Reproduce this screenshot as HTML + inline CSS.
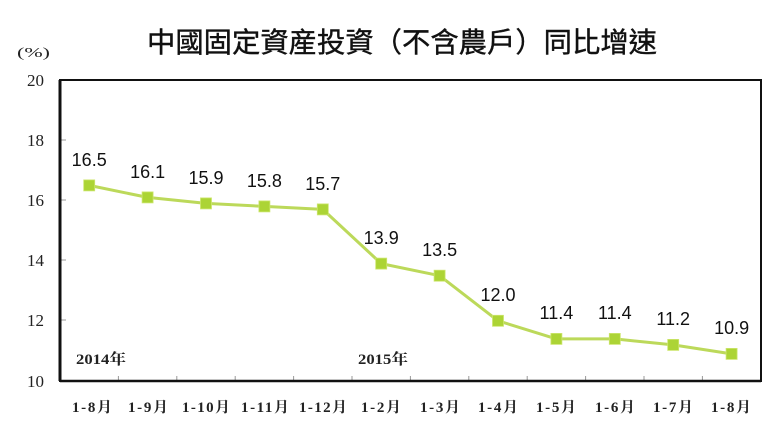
<!DOCTYPE html>
<html><head><meta charset="utf-8"><style>
html,body{margin:0;padding:0;background:#fff;}
svg{display:block;}
</style></head><body>
<svg width="780" height="441" viewBox="0 0 780 441" xmlns="http://www.w3.org/2000/svg">
<rect width="780" height="441" fill="#fff"/>
<text x="402" y="52" text-anchor="middle" font-family="'Noto Sans CJK TC','Noto Sans CJK SC',sans-serif" font-size="28" fill="#111" stroke="#111" stroke-width="0.4" textLength="510" lengthAdjust="spacingAndGlyphs">中國固定資産投資（不含農戶）同比增速</text>
<text x="17" y="57" font-family="'Liberation Serif','Noto Serif CJK SC',serif" font-size="14" fill="#222" textLength="33" lengthAdjust="spacingAndGlyphs">(%)</text>
<g font-family="'Liberation Serif',serif" font-size="17" fill="#222" text-anchor="end">
<text x="44" y="86">20</text>
<text x="44" y="146">18</text>
<text x="44" y="206">16</text>
<text x="44" y="266">14</text>
<text x="44" y="326">12</text>
<text x="44" y="387">10</text>
</g>
<g stroke="#999" stroke-width="1">
<line x1="60" y1="140" x2="66" y2="140"/>
<line x1="60" y1="200" x2="66" y2="200"/>
<line x1="60" y1="260" x2="66" y2="260"/>
<line x1="60" y1="320" x2="66" y2="320"/>
<line x1="118.4" y1="381" x2="118.4" y2="376"/>
<line x1="176.8" y1="381" x2="176.8" y2="376"/>
<line x1="235.2" y1="381" x2="235.2" y2="376"/>
<line x1="293.6" y1="381" x2="293.6" y2="376"/>
<line x1="352" y1="381" x2="352" y2="376"/>
<line x1="410.4" y1="381" x2="410.4" y2="376"/>
<line x1="468.8" y1="381" x2="468.8" y2="376"/>
<line x1="527.2" y1="381" x2="527.2" y2="376"/>
<line x1="585.6" y1="381" x2="585.6" y2="376"/>
<line x1="644" y1="381" x2="644" y2="376"/>
<line x1="702.4" y1="381" x2="702.4" y2="376"/>
</g>
<rect x="60" y="80" width="701" height="301" fill="none" stroke="#111" stroke-width="2"/>
<line x1="60" y1="80" x2="60" y2="381" stroke="#111" stroke-width="3"/>
<line x1="60" y1="381" x2="761" y2="381" stroke="#111" stroke-width="2.6"/>
<polyline fill="none" stroke="#bcd95a" stroke-width="3" stroke-linejoin="round" points="89.2,185.4 147.6,197.4 206,203.4 264.4,206.4 322.8,209.4 381.2,263.6 439.6,275.7 498,320.8 556.4,338.9 614.8,338.9 673.2,344.9 731.6,353.9"/>
<g fill="#acd435" stroke="#cde66e" stroke-width="0.8">
<rect x="83.7" y="179.9" width="11" height="11"/>
<rect x="142.1" y="191.9" width="11" height="11"/>
<rect x="200.5" y="197.9" width="11" height="11"/>
<rect x="258.9" y="200.9" width="11" height="11"/>
<rect x="317.3" y="203.9" width="11" height="11"/>
<rect x="375.7" y="258.1" width="11" height="11"/>
<rect x="434.1" y="270.2" width="11" height="11"/>
<rect x="492.5" y="315.3" width="11" height="11"/>
<rect x="550.9" y="333.4" width="11" height="11"/>
<rect x="609.3" y="333.4" width="11" height="11"/>
<rect x="667.7" y="339.4" width="11" height="11"/>
<rect x="726.1" y="348.4" width="11" height="11"/>
</g>
<g font-family="'Liberation Sans',sans-serif" font-size="18" fill="#111" text-anchor="middle">
<text x="89.2" y="166">16.5</text>
<text x="147.6" y="178">16.1</text>
<text x="206" y="184">15.9</text>
<text x="264.4" y="187">15.8</text>
<text x="322.8" y="190">15.7</text>
<text x="381.2" y="244">13.9</text>
<text x="439.6" y="256">13.5</text>
<text x="498" y="301">12.0</text>
<text x="556.4" y="319">11.4</text>
<text x="614.8" y="319">11.4</text>
<text x="673.2" y="325">11.2</text>
<text x="731.6" y="334">10.9</text>
</g>
<g font-family="'Liberation Serif','Noto Serif CJK SC',serif" font-size="15" font-weight="bold" fill="#222">
<text x="76" y="364" textLength="50" lengthAdjust="spacingAndGlyphs">2014年</text>
<text x="358" y="364" textLength="50" lengthAdjust="spacingAndGlyphs">2015年</text>
</g>
<g font-family="'Liberation Serif','Noto Serif CJK SC',serif" font-size="15" font-weight="bold" fill="#222" text-anchor="middle" lengthAdjust="spacingAndGlyphs">
<text x="92" y="412" textLength="40">1-8月</text>
<text x="148" y="412" textLength="40">1-9月</text>
<text x="206" y="412" textLength="48">1-10月</text>
<text x="265" y="412" textLength="48">1-11月</text>
<text x="323" y="412" textLength="48">1-12月</text>
<text x="381" y="412" textLength="40">1-2月</text>
<text x="440" y="412" textLength="40">1-3月</text>
<text x="498" y="412" textLength="40">1-4月</text>
<text x="556" y="412" textLength="40">1-5月</text>
<text x="615" y="412" textLength="40">1-6月</text>
<text x="673" y="412" textLength="40">1-7月</text>
<text x="731" y="412" textLength="40">1-8月</text>
</g>
</svg>
</body></html>
